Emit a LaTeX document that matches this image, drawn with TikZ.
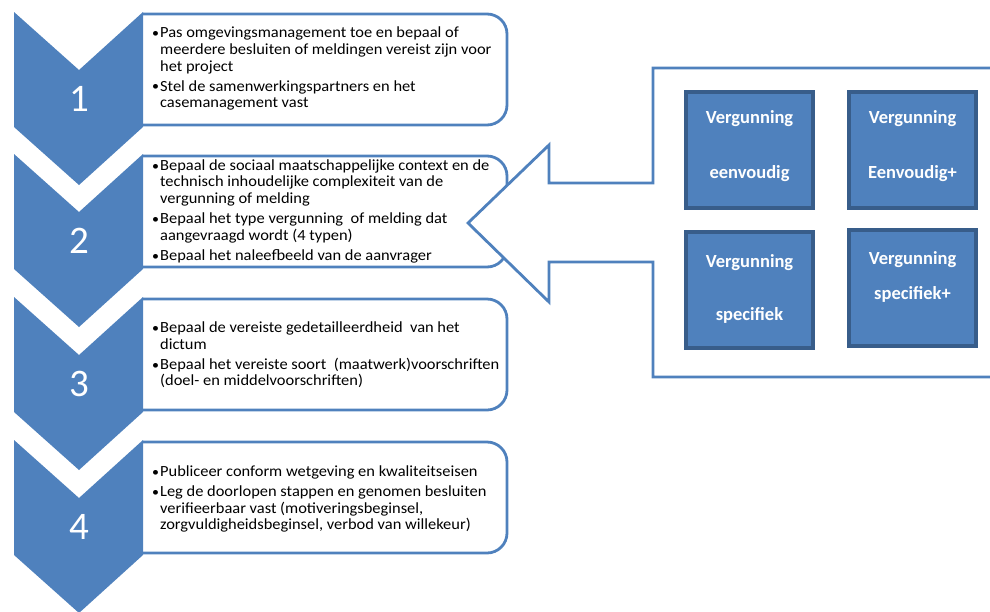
\documentclass[tikz,border=0pt]{standalone}
\usepackage{graphicx}
\usepackage{fontspec}
\setmainfont{Carlito}
\definecolor{stepblue}{HTML}{4F81BD}
\definecolor{stepdark}{HTML}{385D8A}
\newcommand{\stepbul}{\makebox[7.5pt][l]{\raisebox{0.3pt}{\scalebox{0.85}{•}}}}
\newcommand{\steplist}[1]{\scalebox{1.06}[1]{\begin{tabular}{@{}l@{}l@{}}#1\end{tabular}}}
\begin{document}
\begin{tikzpicture}[x=1pt,y=-1pt,
  chev/.style={fill=stepblue},
  listbox/.style={draw=stepblue, line width=2.8pt, rounded corners=20pt},
  num/.style={text=white, font=\fontsize{39}{40}\selectfont, inner sep=0},
  bullets/.style={anchor=west, inner sep=0, font=\fontsize{15.5}{16.6}\selectfont},
  typebox/.style={fill=stepblue, draw=stepdark, line width=4pt, minimum width=127pt, minimum height=116pt, inner sep=0},
  typetext/.style={text=white, font=\bfseries\fontsize{18.5}{20}\selectfont, inner sep=0, anchor=base},
  callout/.style={draw=stepblue, fill=white, line width=2.8pt, line join=miter}
]
\useasboundingbox (0,0) rectangle (990,611);
\clip (0,0) rectangle (990,611);

% list boxes (right-rounded), chevrons and step numbers
\foreach \T/\n in {12/1,154/2,297/3,440/4}{
  \draw[listbox] (143,{\T+2}) -- (507,{\T+2}) -- (507,{\T+113}) -- (143,{\T+113});
  \fill[chev] (14,\T) -- (79,{\T+58}) -- (143,\T) -- (143,{\T+115})
              -- (79,{\T+173}) -- (14,{\T+115}) -- cycle;
  \node[num] (n\n) at (79,{\T+87}) {\n};
}

% bullet texts
\node[bullets] (b1) at (152,69.5) {\steplist{
\stepbul & Pas omgevingsmanagement toe en bepaal of\\
 & meerdere besluiten of meldingen vereist zijn voor\\
 & het project\\[3.5pt]
\stepbul & Stel de samenwerkingspartners en het\\
 & casemanagement vast}};

\node[bullets] (b2) at (152,212) {\steplist{
\stepbul & Bepaal de sociaal maatschappelijke context en de\\
 & technisch inhoudelijke complexiteit van de\\
 & vergunning of melding\\[3.5pt]
\stepbul & Bepaal het type vergunning~ of melding dat\\
 & aangevraagd wordt (4 typen)\\[3.5pt]
\stepbul & Bepaal het naleefbeeld van de aanvrager}};

\node[bullets] (b3) at (152,356) {\steplist{
\stepbul & Bepaal de vereiste gedetailleerdheid~ van het\\
 & dictum\\[3.5pt]
\stepbul & Bepaal het vereiste soort~ (maatwerk)voorschriften\\
 & (doel- en middelvoorschriften)}};

\node[bullets] (b4) at (152,500) {\steplist{
\stepbul & Publiceer conform wetgeving en kwaliteitseisen\\[3.5pt]
\stepbul & Leg de doorlopen stappen en genomen besluiten\\
 & verifieerbaar vast (motiveringsbeginsel,\\
 & zorgvuldigheidsbeginsel, verbod van willekeur)}};

% callout arrow pointing at step 2
\draw[callout] (1000,68) -- (653,68) -- (653,183) -- (549,183) -- (549,145)
  -- (468,223) -- (549,302) -- (549,262) -- (653,262) -- (653,377) -- (1000,377);

% permit types
\node[typebox] (t1) at (749.5,150) {};
\node[typebox] (t2) at (912.5,150) {};
\node[typebox] (t3) at (749.5,290) {};
\node[typebox] (t4) at (912.5,288) {};

\node[typetext] (t1a) at (t1.center |- 0,123.5) {Vergunning};
\node[typetext] (t1b) at (t1.center |- 0,178.5) {eenvoudig};
\node[typetext] (t2a) at (t2.center |- 0,123.5) {Vergunning};
\node[typetext] (t2b) at (t2.center |- 0,178.5) {Eenvoudig+};
\node[typetext] (t3a) at (t3.center |- 0,267) {Vergunning};
\node[typetext] (t3b) at (t3.center |- 0,320) {specifiek};
\node[typetext] (t4a) at (t4.center |- 0,264) {Vergunning};
\node[typetext] (t4b) at (t4.center |- 0,299) {specifiek+};
\end{tikzpicture}
\end{document}
